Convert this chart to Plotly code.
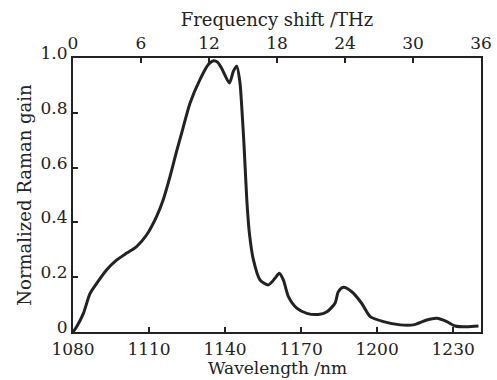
import plotly.graph_objects as go

wavelength_nm = [1080, 1081.5, 1084.1, 1086.7, 1089.4, 1093.3, 1097.3, 1101.2, 1105.1, 1109.1,
                 1113.0, 1115.6, 1118.3, 1120.9, 1123.0, 1126.2, 1130.1, 1133.4, 1135.5, 1137.0,
                 1138.7, 1141.7, 1143.3, 1144.6, 1145.9, 1146.6, 1147.5, 1148.6, 1149.6, 1151.2,
                 1153.8, 1157.1, 1159.7, 1161.4, 1163.0, 1165.0, 1168.3, 1172.3, 1176.8, 1180.2,
                 1183.4, 1184.7, 1186.7, 1190.0, 1193.9, 1197.3, 1202.5, 1209.1, 1214.3, 1219.6,
                 1223.6, 1227.5, 1230.8, 1235.4, 1240.0]
raman_gain = [0.0, 0.02, 0.068, 0.14, 0.178, 0.227, 0.263, 0.288, 0.312, 0.355,
              0.422, 0.483, 0.568, 0.66, 0.73, 0.836, 0.921, 0.976, 0.99, 0.985,
              0.962, 0.909, 0.952, 0.970, 0.909, 0.82, 0.68, 0.48, 0.361, 0.263,
              0.190, 0.172, 0.196, 0.214, 0.190, 0.129, 0.087, 0.068, 0.064, 0.074,
              0.105, 0.147, 0.163, 0.147, 0.105, 0.056, 0.038, 0.026, 0.026, 0.044,
              0.050, 0.038, 0.022, 0.019, 0.022]

wl_ticks = [1080, 1110, 1140, 1170, 1200, 1230]
freq_ticks = [0, 6, 12, 18, 24, 30, 36]
gain_ticks = [0, 0.2, 0.4, 0.6, 0.8, 1.0]
gain_ticktext = ["0", "0.2", "0.4", "0.6", "0.8", "1.0"]

FONT = "DejaVu Serif"
INK = "#222222"

fig = go.Figure()
fig.add_trace(go.Scatter(x=wavelength_nm, y=raman_gain, mode="lines",
                         line=dict(color=INK, width=3, shape="spline", smoothing=0.7),
                         showlegend=False, hoverinfo="skip"))
fig.add_trace(go.Scatter(x=freq_ticks, y=[None] * len(freq_ticks), xaxis="x2",
                         mode="lines", showlegend=False, hoverinfo="skip"))

fig.update_layout(
    width=497, height=380,
    margin=dict(l=73, r=16, t=58, b=48),
    paper_bgcolor="white", plot_bgcolor="white",
    font=dict(family=FONT, size=17, color=INK),
    xaxis=dict(range=[1080, 1241], tickvals=wl_ticks, ticks="inside", ticklen=5,
               tickwidth=2, tickcolor=INK, showline=True, linecolor=INK, linewidth=2,
               showgrid=False, zeroline=False, tickfont=dict(size=17), ticklabelstandoff=1,
               automargin=False),
    xaxis2=dict(range=[0, 36], tickvals=freq_ticks, overlaying="x", side="top",
                ticks="inside", ticklen=5, tickwidth=2, tickcolor=INK, tickfont=dict(size=17),
                showline=True, linecolor=INK, linewidth=2, showgrid=False, zeroline=False,
                automargin=False,
                title=dict(text="Frequency shift /THz", standoff=2, font=dict(size=18))),
    yaxis=dict(range=[0, 1.0], tickvals=gain_ticks, ticktext=gain_ticktext,
               ticks="inside", ticklen=5, tickwidth=2, tickcolor=INK, tickfont=dict(size=17),
               ticklabelshift=-5,
               showline=True, mirror=True, linecolor=INK, linewidth=2,
               showgrid=False, zeroline=False, automargin=False,
               title=dict(text="Normalized Raman gain", standoff=4, font=dict(size=18))),
    annotations=[dict(text="Wavelength /nm", xref="paper", yref="paper", x=0.5, y=0,
                      xanchor="center", yanchor="middle", yshift=-36, showarrow=False,
                      font=dict(family=FONT, size=17, color=INK))],
)

fig.write_html("out.html")
